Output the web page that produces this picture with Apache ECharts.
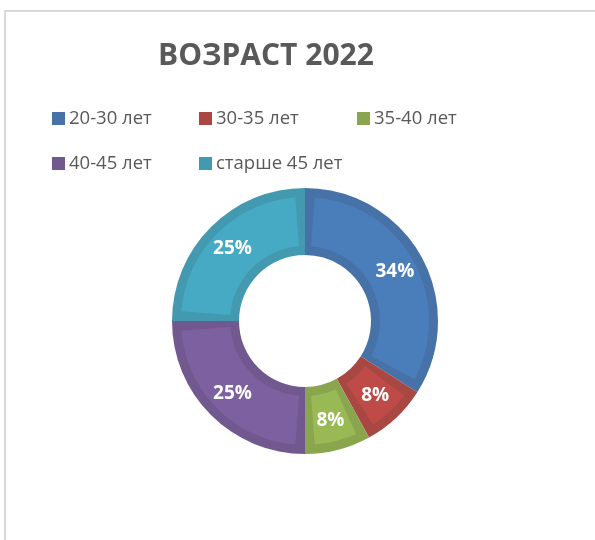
<!DOCTYPE html>
<html>
<head>
<meta charset="utf-8">
<script src="https://cdn.jsdelivr.net/npm/echarts@6/dist/echarts.min.js"></script>
<style>
  html, body { margin: 0; padding: 0; background: #fff; }
  #chart { width: 595px; height: 540px; }
</style>
</head>
<body>
<div id="chart"></div>
<script>
// категории и доли (%)
var categories = ['20-30 лет', '30-35 лет', '35-40 лет', '40-45 лет', 'старше 45 лет'];
var shares = [34, 8, 8, 25, 25];
var chartTitle = 'ВОЗРАСТ 2022';

// цвета: рамка сектора и заливка
var edgeColors = ['#4672a8', '#a94742', '#89a54e', '#71588f', '#4299b0'];
var fillColors = ['#4a7ebb', '#be4b48', '#98b954', '#7d60a0', '#46aac4'];

var FONT = '"Open Sans", "Noto Sans", sans-serif';

var myChart = echarts.init(document.getElementById('chart'));

var edgeData = [], fillData = [];
for (var i = 0; i < categories.length; i++) {
    edgeData.push({ name: categories[i], value: shares[i], itemStyle: { color: edgeColors[i] } });
    fillData.push({ name: categories[i], value: shares[i], itemStyle: { color: fillColors[i] } });
}

function legendCol(names, left) {
    return {
        data: names,
        orient: 'vertical',
        left: left,
        top: 109,
        icon: 'rect',
        itemWidth: 13,
        itemHeight: 13,
        itemGap: 26,
        padding: 0,
        selectedMode: false,
        textStyle: { fontFamily: FONT, fontSize: 18.5, color: '#595959', padding: [0, 0, 0, -1] }
    };
}

var option = {
    animation: false,
    backgroundColor: '#ffffff',
    title: {
        text: chartTitle,
        left: 158,
        top: 41,
        padding: 0,
        textStyle: { fontFamily: FONT, fontSize: 30, fontWeight: 'bold', color: '#595959' }
    },
    legend: [
        legendCol([categories[0], categories[3]], 52),
        legendCol([categories[1], categories[4]], 199),
        legendCol([categories[2]], 357)
    ],
    graphic: [{
        type: 'rect',
        shape: { x: 5, y: 11, width: 700, height: 600 },
        style: { fill: 'none', stroke: '#d9d9d9', lineWidth: 2 },
        silent: true
    }],
    series: [
        {
            name: 'edge',
            type: 'pie',
            center: [305, 321],
            radius: [66, 133],
            startAngle: 90,
            clockwise: true,
            silent: true,
            label: { show: false },
            labelLine: { show: false },
            emphasis: { disabled: true },
            data: edgeData
        },
        {
            name: 'fill',
            type: 'pie',
            center: [305, 321],
            radius: [75, 124],
            startAngle: 90,
            clockwise: true,
            padAngle: 9,
            silent: true,
            labelLine: { show: false },
            emphasis: { disabled: true },
            label: {
                show: true,
                position: 'inside',
                formatter: '{c}%',
                color: '#ffffff',
                fontFamily: FONT,
                fontWeight: 'bold',
                fontSize: 19
            },
            data: fillData
        }
    ]
};

myChart.setOption(option);
</script>
</body>
</html>
